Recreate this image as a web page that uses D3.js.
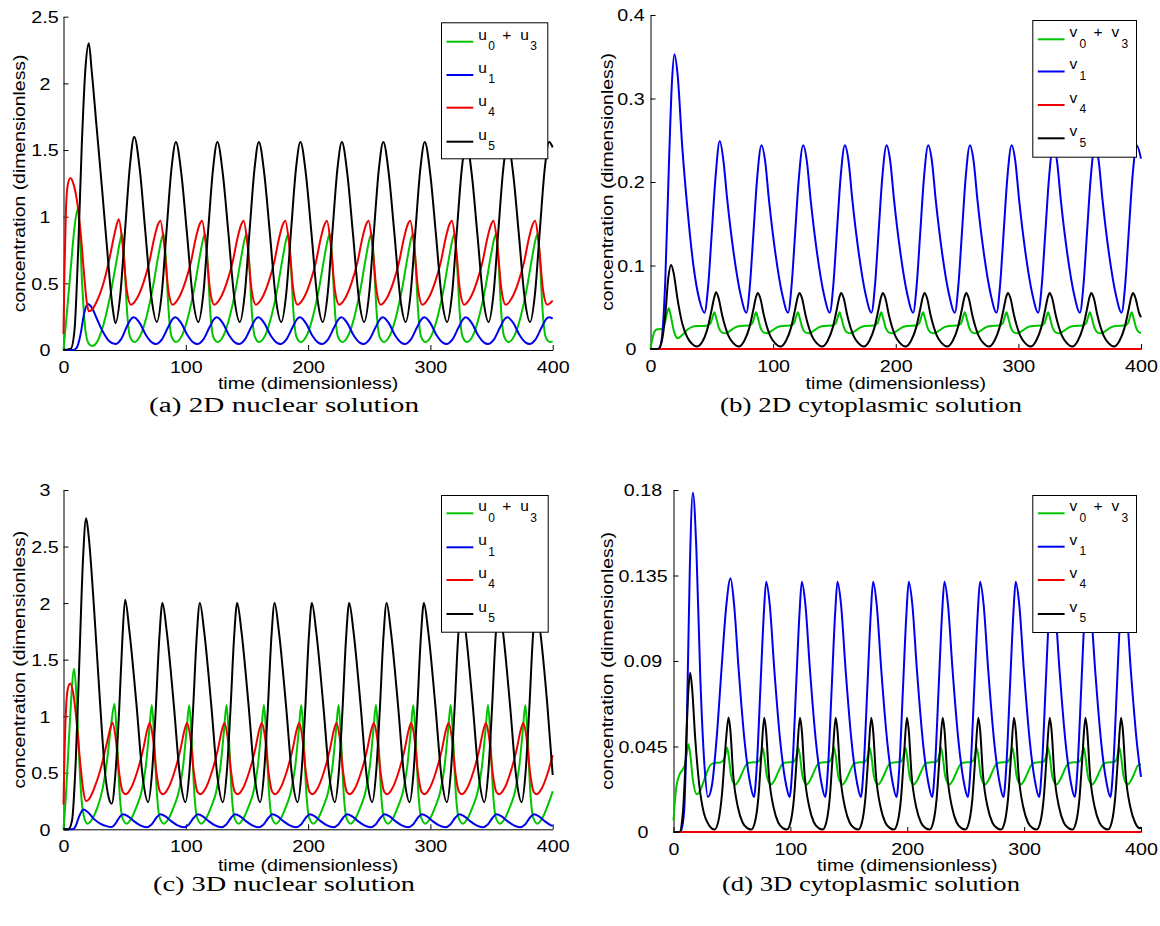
<!DOCTYPE html>
<html><head><meta charset="utf-8">
<script src="https://cdn.jsdelivr.net/npm/d3@7"></script>
<style>body{margin:0;background:#fff}svg{display:block}</style>
</head><body>
<svg id="fig" width="1160" height="926"></svg>
<script>
// ---------------- data ----------------
const xTicks = [0, 100, 200, 300, 400];
const yTicksA = [0, 0.5, 1, 1.5, 2, 2.5];
const yTicksB = [0, 0.1, 0.2, 0.3, 0.4];
const yTicksC = [0, 0.5, 1, 1.5, 2, 2.5, 3];
const yTicksD = [0, 0.045, 0.09, 0.135, 0.18];
const xLabel = "time (dimensionless)";
const yLabel = "concentration (dimensionless)";
const captions = ["(a) 2D nuclear solution", "(b) 2D cytoplasmic solution", "(c) 3D nuclear solution", "(d) 3D cytoplasmic solution"];
const legendNuclear = [[["u","0"],["u","3"]], [["u","1"]], [["u","4"]], [["u","5"]]];
const legendCyto = [[["v","0"],["v","3"]], [["v","1"]], [["v","4"]], [["v","5"]]];

// (a) 2D nuclear
const a_u03 = [[0,0],[3,0.3],[6,0.62],[9,0.92],[11.7,1.06],[13.5,0.85],[15.4,0.47],[17.9,0.15],[20.5,0.05],[23.4,0.03],[28,0.07],[33,0.2],[38,0.4],[43,0.65],[46.3,0.82],[47.9,0.87],
[49.9,0.65],[51.9,0.3],[54.4,0.1],[57.9,0.06],[62.9,0.11],[67.9,0.25],[72.9,0.46],[77.4,0.7],[80.4,0.84],[81.9,0.87],
[83.9,0.65],[85.9,0.3],[88.4,0.1],[91.9,0.06],[96.9,0.11],[101.9,0.25],[106.9,0.46],[111.4,0.7],[114.4,0.84],[115.9,0.87],
[117.9,0.65],[119.9,0.3],[122.4,0.1],[125.9,0.06],[130.9,0.11],[135.9,0.25],[140.9,0.46],[145.4,0.7],[148.4,0.84],[149.9,0.87],
[151.9,0.65],[153.9,0.3],[156.4,0.1],[159.9,0.06],[164.9,0.11],[169.9,0.25],[174.9,0.46],[179.4,0.7],[182.4,0.84],[183.9,0.87],
[185.9,0.65],[187.9,0.3],[190.4,0.1],[193.9,0.06],[198.9,0.11],[203.9,0.25],[208.9,0.46],[213.4,0.7],[216.4,0.84],[217.9,0.87],
[219.9,0.65],[221.9,0.3],[224.4,0.1],[227.9,0.06],[232.9,0.11],[237.9,0.25],[242.9,0.46],[247.4,0.7],[250.4,0.84],[251.9,0.87],
[253.9,0.65],[255.9,0.3],[258.4,0.1],[261.9,0.06],[266.9,0.11],[271.9,0.25],[276.9,0.46],[281.4,0.7],[284.4,0.84],[285.9,0.87],
[287.9,0.65],[289.9,0.3],[292.4,0.1],[295.9,0.06],[300.9,0.11],[305.9,0.25],[310.9,0.46],[315.4,0.7],[318.4,0.84],[319.8,0.87],
[321.8,0.65],[323.8,0.3],[326.3,0.1],[329.8,0.06],[334.8,0.11],[339.8,0.25],[344.8,0.46],[349.3,0.7],[352.3,0.84],[353.8,0.87],
[355.8,0.65],[357.8,0.3],[360.3,0.1],[363.8,0.06],[368.8,0.11],[373.8,0.25],[378.8,0.46],[383.3,0.7],[386.3,0.84],[387.7,0.87],
[389.7,0.65],[391.7,0.3],[394.2,0.1],[397.7,0.06],[400,0.065]];
const a_u1 = [[0,0],[8,0],[11,0.02],[14,0.12],[17,0.28],[19.9,0.345],[23,0.32],[27,0.24],[32,0.14],[37,0.07],[42.5,0.045],[47,0.08],[52,0.18],[55,0.23],[57.5,0.245],
[62.5,0.2],[67.5,0.11],[72.5,0.055],[75.5,0.045],[80.5,0.08],[85.5,0.17],[89,0.23],[91.4,0.245],
[96.4,0.2],[101.4,0.11],[106.4,0.055],[109.4,0.045],[114.4,0.08],[119.4,0.17],[122.9,0.23],[125.4,0.245],
[130.4,0.2],[135.4,0.11],[140.4,0.055],[143.4,0.045],[148.4,0.08],[153.4,0.17],[156.9,0.23],[159.3,0.245],
[164.3,0.2],[169.3,0.11],[174.3,0.055],[177.3,0.045],[182.3,0.08],[187.3,0.17],[190.8,0.23],[193.3,0.245],
[198.3,0.2],[203.3,0.11],[208.3,0.055],[211.3,0.045],[216.3,0.08],[221.3,0.17],[224.8,0.23],[227.2,0.245],
[232.2,0.2],[237.2,0.11],[242.2,0.055],[245.2,0.045],[250.2,0.08],[255.2,0.17],[258.7,0.23],[261.1,0.245],
[266.1,0.2],[271.1,0.11],[276.1,0.055],[279.1,0.045],[284.1,0.08],[289.1,0.17],[292.6,0.23],[295.1,0.245],
[300.1,0.2],[305.1,0.11],[310.1,0.055],[313.1,0.045],[318.1,0.08],[323.1,0.17],[326.6,0.23],[329,0.245],
[334,0.2],[339,0.11],[344,0.055],[347,0.045],[352,0.08],[357,0.17],[360.5,0.23],[363,0.245],
[368,0.2],[373,0.11],[378,0.055],[381,0.045],[386,0.08],[391,0.17],[394.5,0.23],[396.9,0.245],[400,0.235]];
const a_u4 = [[0,0.12],[0.8,0.6],[2,1.05],[3.5,1.24],[5.7,1.29],[8,1.25],[11,1.12],[14,0.88],[17,0.55],[19,0.36],[20.7,0.29],[23,0.3],[27,0.36],[32,0.48],[37,0.66],[41,0.84],[43.5,0.94],[45.2,0.98],
[48.2,0.8],[51.7,0.45],[55.2,0.34],[60.2,0.39],[65.2,0.5],[70.2,0.66],[74.2,0.84],[77.2,0.94],[79.2,0.97],
[82.2,0.8],[85.7,0.45],[89.2,0.34],[94.2,0.39],[99.2,0.5],[104.2,0.66],[108.2,0.84],[111.2,0.94],[113.3,0.97],
[116.3,0.8],[119.8,0.45],[123.3,0.34],[128.3,0.39],[133.3,0.5],[138.3,0.66],[142.3,0.84],[145.3,0.94],[147.3,0.97],
[150.3,0.8],[153.8,0.45],[157.3,0.34],[162.3,0.39],[167.3,0.5],[172.3,0.66],[176.3,0.84],[179.3,0.94],[181.4,0.97],
[184.4,0.8],[187.9,0.45],[191.4,0.34],[196.4,0.39],[201.4,0.5],[206.4,0.66],[210.4,0.84],[213.4,0.94],[215.4,0.97],
[218.4,0.8],[221.9,0.45],[225.4,0.34],[230.4,0.39],[235.4,0.5],[240.4,0.66],[244.4,0.84],[247.4,0.94],[249.4,0.97],
[252.4,0.8],[255.9,0.45],[259.4,0.34],[264.4,0.39],[269.4,0.5],[274.4,0.66],[278.4,0.84],[281.4,0.94],[283.5,0.97],
[286.5,0.8],[290,0.45],[293.5,0.34],[298.5,0.39],[303.5,0.5],[308.5,0.66],[312.5,0.84],[315.5,0.94],[317.6,0.97],
[320.6,0.8],[324.1,0.45],[327.6,0.34],[332.6,0.39],[337.6,0.5],[342.6,0.66],[346.6,0.84],[349.6,0.94],[351.6,0.97],
[354.6,0.8],[358.1,0.45],[361.6,0.34],[366.6,0.39],[371.6,0.5],[376.6,0.66],[380.6,0.84],[383.6,0.94],[385.6,0.97],
[388.6,0.8],[392.1,0.45],[395.6,0.34],[400,0.37]];
const a_u5 = [[0,0],[6,0.01],[9,0.15],[12,0.75],[15,1.55],[18,2.12],[20.7,2.3],[23,2.1],[27,1.68],[31.6,1.2],[36,0.72],[40,0.33],[42.5,0.2],
[46.5,0.42],[50.5,0.92],[54.3,1.38],[57.8,1.6],
[62.3,1.36],[66.8,0.9],[71.8,0.4],[76.3,0.21],[80.3,0.42],[84.3,0.9],[88.3,1.36],[91.9,1.56],
[96.4,1.32],[100.9,0.88],[105.9,0.38],[110.3,0.21],[114.3,0.42],[118.3,0.9],[122.3,1.36],[125.8,1.56],
[130.3,1.32],[134.8,0.88],[139.8,0.38],[144.2,0.21],[148.2,0.42],[152.2,0.9],[156.2,1.36],[159.7,1.56],
[164.2,1.32],[168.7,0.88],[173.7,0.38],[178.1,0.21],[182.1,0.42],[186.1,0.9],[190.1,1.36],[193.7,1.56],
[198.2,1.32],[202.7,0.88],[207.7,0.38],[212,0.21],[216,0.42],[220,0.9],[224,1.36],[227.6,1.56],
[232.1,1.32],[236.6,0.88],[241.6,0.38],[245.9,0.21],[249.9,0.42],[253.9,0.9],[257.9,1.36],[261.5,1.56],
[266,1.32],[270.5,0.88],[275.5,0.38],[279.8,0.21],[283.8,0.42],[287.8,0.9],[291.8,1.36],[295.4,1.56],
[299.9,1.32],[304.4,0.88],[309.4,0.38],[313.7,0.21],[317.7,0.42],[321.7,0.9],[325.7,1.36],[329.3,1.56],
[333.8,1.32],[338.3,0.88],[343.3,0.38],[347.6,0.21],[351.6,0.42],[355.6,0.9],[359.6,1.36],[363.2,1.56],
[367.7,1.32],[372.2,0.88],[377.2,0.38],[381.5,0.21],[385.5,0.42],[389.5,0.9],[393.5,1.36],[397.1,1.56],[400,1.52]];

// (b) 2D cytoplasmic
const b_v03 = [[0,0],[1.5,0.012],[3,0.02],[5.4,0.0236],[9,0.024],[11.5,0.03],[13.5,0.043],[14.9,0.0487],[16.5,0.04],[19,0.022],[22.3,0.0128],[26,0.017],[30,0.023],[34,0.0265],[38,0.0275],[46,0.0278],[49,0.031],[50.6,0.038],[52.1,0.044],
[53.6,0.037],[55.6,0.026],[58.1,0.02],[61.1,0.0188],[65.1,0.022],[69.1,0.026],[73.1,0.0275],[80.1,0.028],[83.1,0.031],[84.6,0.038],[86.1,0.044],
[87.6,0.037],[89.6,0.026],[92.1,0.02],[95.1,0.0188],[99.1,0.022],[103.1,0.026],[107.1,0.0275],[114.1,0.028],[117.1,0.031],[118.6,0.038],[120.2,0.044],
[121.7,0.037],[123.7,0.026],[126.2,0.02],[129.2,0.0188],[133.2,0.022],[137.2,0.026],[141.2,0.0275],[148.2,0.028],[151.2,0.031],[152.7,0.038],[154.2,0.044],
[155.7,0.037],[157.7,0.026],[160.2,0.02],[163.2,0.0188],[167.2,0.022],[171.2,0.026],[175.2,0.0275],[182.2,0.028],[185.2,0.031],[186.7,0.038],[188.2,0.044],
[189.7,0.037],[191.7,0.026],[194.2,0.02],[197.2,0.0188],[201.2,0.022],[205.2,0.026],[209.2,0.0275],[216.2,0.028],[219.2,0.031],[220.7,0.038],[222.3,0.044],
[223.8,0.037],[225.8,0.026],[228.3,0.02],[231.3,0.0188],[235.3,0.022],[239.3,0.026],[243.3,0.0275],[250.3,0.028],[253.3,0.031],[254.8,0.038],[256.3,0.044],
[257.8,0.037],[259.8,0.026],[262.3,0.02],[265.3,0.0188],[269.3,0.022],[273.3,0.026],[277.3,0.0275],[284.3,0.028],[287.3,0.031],[288.8,0.038],[290.3,0.044],
[291.8,0.037],[293.8,0.026],[296.3,0.02],[299.3,0.0188],[303.3,0.022],[307.3,0.026],[311.3,0.0275],[318.3,0.028],[321.3,0.031],[322.8,0.038],[324.3,0.044],
[325.8,0.037],[327.8,0.026],[330.3,0.02],[333.3,0.0188],[337.3,0.022],[341.3,0.026],[345.3,0.0275],[352.3,0.028],[355.3,0.031],[356.8,0.038],[358.4,0.044],
[359.9,0.037],[361.9,0.026],[364.4,0.02],[367.4,0.0188],[371.4,0.022],[375.4,0.026],[379.4,0.0275],[386.4,0.028],[389.4,0.031],[390.9,0.038],[392.4,0.044],
[393.9,0.037],[395.9,0.026],[398.4,0.02],[400,0.019]];
const b_v1 = [[0,0],[7,0],[9,0.01],[12,0.08],[15,0.22],[17.5,0.32],[19.5,0.353],[22,0.33],[26,0.24],[30,0.17],[35,0.1],[40,0.058],[44,0.0435],[47,0.075],[50,0.14],[53,0.205],[56.5,0.249],
[59.5,0.225],[62.5,0.18],[68,0.113],[73.5,0.065],[78.2,0.0435],[81,0.075],[84,0.14],[87,0.205],[90.5,0.244],
[93.5,0.225],[96.5,0.18],[102,0.113],[107.5,0.065],[112.2,0.0435],[115,0.075],[118,0.14],[121,0.205],[124.5,0.244],
[127.5,0.225],[130.5,0.18],[136,0.113],[141.5,0.065],[146.2,0.0435],[149,0.075],[152,0.14],[155,0.205],[158.5,0.244],
[161.5,0.225],[164.5,0.18],[170,0.113],[175.5,0.065],[180.2,0.0435],[183,0.075],[186,0.14],[189,0.205],[192.5,0.244],
[195.5,0.225],[198.5,0.18],[204,0.113],[209.5,0.065],[214.2,0.0435],[217,0.075],[220,0.14],[223,0.205],[226.5,0.244],
[229.5,0.225],[232.5,0.18],[238,0.113],[243.5,0.065],[248.2,0.0435],[251,0.075],[254,0.14],[257,0.205],[260.5,0.244],
[263.5,0.225],[266.5,0.18],[272,0.113],[277.5,0.065],[282.2,0.0435],[285,0.075],[288,0.14],[291,0.205],[294.5,0.244],
[297.5,0.225],[300.5,0.18],[306,0.113],[311.5,0.065],[316.2,0.0435],[319,0.075],[322,0.14],[325,0.205],[328.5,0.244],
[331.5,0.225],[334.5,0.18],[340,0.113],[345.5,0.065],[350.2,0.0435],[353,0.075],[356,0.14],[359,0.205],[362.5,0.244],
[365.5,0.225],[368.5,0.18],[374,0.113],[379.5,0.065],[384.2,0.0435],[387,0.075],[390,0.14],[393,0.205],[396.5,0.244],[400,0.228]];
const b_v4 = [[0,0],[400,0]];
const b_v5 = [[0,0],[6,0],[9,0.008],[12,0.04],[14.5,0.085],[16.8,0.1006],[19,0.09],[22,0.06],[26,0.03],[30,0.014],[34,0.006],[38,0.003],[42,0.008],[46,0.022],[50,0.048],[52,0.062],[53.5,0.068],
[55.5,0.061],[58.5,0.04],[63.5,0.016],[67.5,0.007],[72,0.003],[76.5,0.01],[80.5,0.025],[84,0.048],[86,0.062],[87.5,0.067],
[89.5,0.061],[92.5,0.04],[97.5,0.016],[101.5,0.007],[106,0.003],[110.5,0.01],[114.5,0.025],[118,0.048],[120,0.062],[121.5,0.067],
[123.5,0.061],[126.5,0.04],[131.5,0.016],[135.5,0.007],[140,0.003],[144.5,0.01],[148.5,0.025],[152,0.048],[154,0.062],[155.5,0.067],
[157.5,0.061],[160.5,0.04],[165.5,0.016],[169.5,0.007],[174,0.003],[178.5,0.01],[182.5,0.025],[186,0.048],[188,0.062],[189.5,0.067],
[191.5,0.061],[194.5,0.04],[199.5,0.016],[203.5,0.007],[208,0.003],[212.5,0.01],[216.5,0.025],[220,0.048],[222,0.062],[223.5,0.067],
[225.5,0.061],[228.5,0.04],[233.5,0.016],[237.5,0.007],[242,0.003],[246.5,0.01],[250.5,0.025],[254,0.048],[256,0.062],[257.5,0.067],
[259.5,0.061],[262.5,0.04],[267.5,0.016],[271.5,0.007],[276,0.003],[280.5,0.01],[284.5,0.025],[288,0.048],[290,0.062],[291.5,0.067],
[293.5,0.061],[296.5,0.04],[301.5,0.016],[305.5,0.007],[310,0.003],[314.5,0.01],[318.5,0.025],[322,0.048],[324,0.062],[325.5,0.067],
[327.5,0.061],[330.5,0.04],[335.5,0.016],[339.5,0.007],[344,0.003],[348.5,0.01],[352.5,0.025],[356,0.048],[358,0.062],[359.5,0.067],
[361.5,0.061],[364.5,0.04],[369.5,0.016],[373.5,0.007],[378,0.003],[382.5,0.01],[386.5,0.025],[390,0.048],[392,0.062],[393.5,0.067],
[395.5,0.061],[398.5,0.043],[400,0.038]];

// (c) 3D nuclear
const c_u03 = [[0,0],[2,0.3],[4,0.7],[6,1.1],[8.7,1.42],[10.5,1.2],[12.5,0.7],[14.5,0.3],[17,0.1],[19.6,0.05],[24,0.1],[28,0.2],[32,0.36],[35.5,0.6],[39,0.93],[41.7,1.11],
[43.7,0.8],[45.7,0.35],[48.2,0.1],[51.7,0.05],[55.7,0.1],[59.7,0.2],[63.7,0.33],[67.2,0.55],[70.2,0.88],[72.2,1.1],
[74.2,0.8],[76.2,0.35],[78.7,0.1],[82.2,0.05],[86.2,0.1],[90.2,0.2],[94.2,0.33],[97.7,0.55],[100.7,0.88],[102.8,1.1],
[104.8,0.8],[106.8,0.35],[109.3,0.1],[112.8,0.05],[116.8,0.1],[120.8,0.2],[124.8,0.33],[128.3,0.55],[131.3,0.88],[133.3,1.1],
[135.3,0.8],[137.3,0.35],[139.8,0.1],[143.3,0.05],[147.3,0.1],[151.3,0.2],[155.3,0.33],[158.8,0.55],[161.8,0.88],[163.9,1.1],
[165.9,0.8],[167.9,0.35],[170.4,0.1],[173.9,0.05],[177.9,0.1],[181.9,0.2],[185.9,0.33],[189.4,0.55],[192.4,0.88],[194.4,1.1],
[196.4,0.8],[198.4,0.35],[200.9,0.1],[204.4,0.05],[208.4,0.1],[212.4,0.2],[216.4,0.33],[219.9,0.55],[222.9,0.88],[224.9,1.1],
[226.9,0.8],[228.9,0.35],[231.4,0.1],[234.9,0.05],[238.9,0.1],[242.9,0.2],[246.9,0.33],[250.4,0.55],[253.4,0.88],[255.5,1.1],
[257.5,0.8],[259.5,0.35],[262,0.1],[265.5,0.05],[269.5,0.1],[273.5,0.2],[277.5,0.33],[281,0.55],[284,0.88],[286,1.1],
[288,0.8],[290,0.35],[292.5,0.1],[296,0.05],[300,0.1],[304,0.2],[308,0.33],[311.5,0.55],[314.5,0.88],[316.6,1.1],
[318.6,0.8],[320.6,0.35],[323.1,0.1],[326.6,0.05],[330.6,0.1],[334.6,0.2],[338.6,0.33],[342.1,0.55],[345.1,0.88],[347.1,1.1],
[349.1,0.8],[351.1,0.35],[353.6,0.1],[357.1,0.05],[361.1,0.1],[365.1,0.2],[369.1,0.33],[372.6,0.55],[375.6,0.88],[377.6,1.1],
[379.6,0.8],[381.6,0.35],[384.1,0.1],[387.6,0.05],[391.6,0.1],[395.6,0.2],[400,0.336]];
const c_u1 = [[0,0],[7,0],[10,0.03],[13,0.12],[16.3,0.174],[20,0.15],[25,0.09],[30,0.05],[35,0.028],[39.5,0.02],[42.5,0.05],[46,0.11],[48.8,0.133],
[52.8,0.115],[57.8,0.07],[62.8,0.035],[67.8,0.018],[71.8,0.04],[75.8,0.1],[79.3,0.133],
[83.3,0.115],[88.3,0.07],[93.3,0.035],[98.3,0.018],[102.3,0.04],[106.3,0.1],[109.9,0.133],
[113.9,0.115],[118.9,0.07],[123.9,0.035],[128.9,0.018],[132.9,0.04],[136.9,0.1],[140.4,0.133],
[144.4,0.115],[149.4,0.07],[154.4,0.035],[159.4,0.018],[163.4,0.04],[167.4,0.1],[171,0.133],
[175,0.115],[180,0.07],[185,0.035],[190,0.018],[194,0.04],[198,0.1],[201.5,0.133],
[205.5,0.115],[210.5,0.07],[215.5,0.035],[220.5,0.018],[224.5,0.04],[228.5,0.1],[232,0.133],
[236,0.115],[241,0.07],[246,0.035],[251,0.018],[255,0.04],[259,0.1],[262.6,0.133],
[266.6,0.115],[271.6,0.07],[276.6,0.035],[281.6,0.018],[285.6,0.04],[289.6,0.1],[293.1,0.133],
[297.1,0.115],[302.1,0.07],[307.1,0.035],[312.1,0.018],[316.1,0.04],[320.1,0.1],[323.7,0.133],
[327.7,0.115],[332.7,0.07],[337.7,0.035],[342.7,0.018],[346.7,0.04],[350.7,0.1],[354.2,0.133],
[358.2,0.115],[363.2,0.07],[368.2,0.035],[373.2,0.018],[377.2,0.04],[381.2,0.1],[384.7,0.133],
[388.7,0.115],[393.7,0.07],[398.7,0.035],[400,0.03]];
const c_u4 = [[0,0.22],[0.7,0.6],[2,1.05],[3.5,1.24],[5.5,1.29],[8,1.2],[11,0.92],[14,0.55],[16.5,0.32],[18.5,0.25],[21,0.27],[25,0.36],[30,0.52],[35,0.74],[38.5,0.9],[40,0.944],
[42.5,0.82],[45.5,0.5],[48.5,0.33],[51,0.31],[55,0.36],[60,0.5],[65,0.7],[68.5,0.88],[70.5,0.94],
[73,0.82],[76,0.5],[79,0.33],[81.5,0.31],[85.5,0.36],[90.5,0.5],[95.5,0.7],[99,0.88],[101.1,0.94],
[103.6,0.82],[106.6,0.5],[109.6,0.33],[112.1,0.31],[116.1,0.36],[121.1,0.5],[126.1,0.7],[129.6,0.88],[131.6,0.94],
[134.1,0.82],[137.1,0.5],[140.1,0.33],[142.6,0.31],[146.6,0.36],[151.6,0.5],[156.6,0.7],[160.1,0.88],[162.2,0.94],
[164.7,0.82],[167.7,0.5],[170.7,0.33],[173.2,0.31],[177.2,0.36],[182.2,0.5],[187.2,0.7],[190.7,0.88],[192.7,0.94],
[195.2,0.82],[198.2,0.5],[201.2,0.33],[203.7,0.31],[207.7,0.36],[212.7,0.5],[217.7,0.7],[221.2,0.88],[223.2,0.94],
[225.7,0.82],[228.7,0.5],[231.7,0.33],[234.2,0.31],[238.2,0.36],[243.2,0.5],[248.2,0.7],[251.7,0.88],[253.8,0.94],
[256.3,0.82],[259.3,0.5],[262.3,0.33],[264.8,0.31],[268.8,0.36],[273.8,0.5],[278.8,0.7],[282.3,0.88],[284.3,0.94],
[286.8,0.82],[289.8,0.5],[292.8,0.33],[295.3,0.31],[299.3,0.36],[304.3,0.5],[309.3,0.7],[312.8,0.88],[314.9,0.94],
[317.4,0.82],[320.4,0.5],[323.4,0.33],[325.9,0.31],[329.9,0.36],[334.9,0.5],[339.9,0.7],[343.4,0.88],[345.4,0.94],
[347.9,0.82],[350.9,0.5],[353.9,0.33],[356.4,0.31],[360.4,0.36],[365.4,0.5],[370.4,0.7],[373.9,0.88],[376,0.94],
[378.5,0.82],[381.5,0.5],[384.5,0.33],[387,0.31],[391,0.36],[396,0.5],[400,0.655]];
const c_u5 = [[0,0],[4,0],[7,0.08],[10,0.6],[13,1.5],[16,2.4],[18.5,2.75],[20.5,2.6],[25,1.95],[30,1.1],[34,0.5],[37,0.28],[39.5,0.227],[42.5,0.5],[45.5,1.05],[48,1.65],[50.4,2.03],
[53.9,1.75],[59.7,1.1],[64.9,0.45],[69.2,0.24],[72.4,0.5],[75.4,1.05],[78.4,1.7],[80.9,2],
[84.4,1.75],[90.2,1.1],[95.4,0.45],[99.7,0.24],[102.9,0.5],[105.9,1.05],[108.9,1.7],[111.5,2],
[115,1.75],[120.8,1.1],[126,0.45],[130.3,0.24],[133.5,0.5],[136.5,1.05],[139.5,1.7],[142,2],
[145.5,1.75],[151.3,1.1],[156.5,0.45],[160.8,0.24],[164,0.5],[167,1.05],[170,1.7],[172.6,2],
[176.1,1.75],[181.9,1.1],[187.1,0.45],[191.4,0.24],[194.6,0.5],[197.6,1.05],[200.6,1.7],[203.1,2],
[206.6,1.75],[212.4,1.1],[217.6,0.45],[221.9,0.24],[225.1,0.5],[228.1,1.05],[231.1,1.7],[233.6,2],
[237.1,1.75],[242.9,1.1],[248.1,0.45],[252.4,0.24],[255.6,0.5],[258.6,1.05],[261.6,1.7],[264.2,2],
[267.7,1.75],[273.5,1.1],[278.7,0.45],[283,0.24],[286.2,0.5],[289.2,1.05],[292.2,1.7],[294.7,2],
[298.2,1.75],[304,1.1],[309.2,0.45],[313.5,0.24],[316.7,0.5],[319.7,1.05],[322.7,1.7],[325.3,2],
[328.8,1.75],[334.6,1.1],[339.8,0.45],[344.1,0.24],[347.3,0.5],[350.3,1.05],[353.3,1.7],[355.8,2],
[359.3,1.75],[365.1,1.1],[370.3,0.45],[374.6,0.24],[377.8,0.5],[380.8,1.05],[383.8,1.7],[386.3,2],
[389.8,1.75],[395.6,1.1],[400,0.48]];

// (d) 3D cytoplasmic
const d_v03 = [[0,0.006],[1,0.015],[2.5,0.024],[5,0.03],[8,0.033],[10,0.036],[11.5,0.042],[12.8,0.0462],[14.5,0.04],[16.5,0.028],[20,0.0199],[23,0.022],[26,0.027],[29,0.032],[32,0.0355],[36,0.0364],[40,0.0366],[43,0.038],[44.5,0.041],[45.7,0.0445],
[47.2,0.04],[49.2,0.03],[51.2,0.026],[53.1,0.025],[55.7,0.027],[58.7,0.031],[61.7,0.035],[64.7,0.0365],[71.7,0.0368],[73.7,0.038],[75,0.041],[76.2,0.0445],
[77.7,0.04],[79.7,0.03],[81.7,0.026],[83.6,0.025],[86.2,0.027],[89.2,0.031],[92.2,0.035],[95.2,0.0365],[102.2,0.0368],[104.2,0.038],[105.5,0.041],[106.7,0.0445],
[108.2,0.04],[110.2,0.03],[112.2,0.026],[114.1,0.025],[116.7,0.027],[119.7,0.031],[122.7,0.035],[125.7,0.0365],[132.7,0.0368],[134.7,0.038],[136,0.041],[137.3,0.0445],
[138.8,0.04],[140.8,0.03],[142.8,0.026],[144.7,0.025],[147.3,0.027],[150.3,0.031],[153.3,0.035],[156.3,0.0365],[163.3,0.0368],[165.3,0.038],[166.6,0.041],[167.8,0.0445],
[169.3,0.04],[171.3,0.03],[173.3,0.026],[175.2,0.025],[177.8,0.027],[180.8,0.031],[183.8,0.035],[186.8,0.0365],[193.8,0.0368],[195.8,0.038],[197.1,0.041],[198.3,0.0445],
[199.8,0.04],[201.8,0.03],[203.8,0.026],[205.7,0.025],[208.3,0.027],[211.3,0.031],[214.3,0.035],[217.3,0.0365],[224.3,0.0368],[226.3,0.038],[227.6,0.041],[228.8,0.0445],
[230.3,0.04],[232.3,0.03],[234.3,0.026],[236.2,0.025],[238.8,0.027],[241.8,0.031],[244.8,0.035],[247.8,0.0365],[254.8,0.0368],[256.8,0.038],[258.1,0.041],[259.3,0.0445],
[260.8,0.04],[262.8,0.03],[264.8,0.026],[266.7,0.025],[269.3,0.027],[272.3,0.031],[275.3,0.035],[278.3,0.0365],[285.3,0.0368],[287.3,0.038],[288.6,0.041],[289.9,0.0445],
[291.4,0.04],[293.4,0.03],[295.4,0.026],[297.3,0.025],[299.9,0.027],[302.9,0.031],[305.9,0.035],[308.9,0.0365],[315.9,0.0368],[317.9,0.038],[319.2,0.041],[320.4,0.0445],
[321.9,0.04],[323.9,0.03],[325.9,0.026],[327.8,0.025],[330.4,0.027],[333.4,0.031],[336.4,0.035],[339.4,0.0365],[346.4,0.0368],[348.4,0.038],[349.7,0.041],[350.9,0.0445],
[352.4,0.04],[354.4,0.03],[356.4,0.026],[358.3,0.025],[360.9,0.027],[363.9,0.031],[366.9,0.035],[369.9,0.0365],[376.9,0.0368],[378.9,0.038],[380.2,0.041],[381.4,0.0445],
[382.9,0.04],[384.9,0.03],[386.9,0.026],[388.8,0.025],[391.4,0.027],[394.4,0.031],[397.4,0.035],[400,0.0355]];
const d_v1 = [[0,0],[6,0],[9,0.01],[11.5,0.06],[14,0.14],[16.6,0.1786],[19.5,0.15],[23,0.08],[26.5,0.035],[29.4,0.0184],[33,0.025],[37,0.05],[41,0.085],[45,0.118],[48.8,0.1335],
[51.8,0.12],[55.8,0.085],[60.8,0.048],[65.8,0.025],[68.8,0.0184],[71.3,0.035],[74.3,0.075],[77.3,0.115],[79.3,0.1317],
[82.3,0.12],[86.3,0.085],[91.3,0.048],[96.3,0.025],[99.3,0.0184],[101.8,0.035],[104.8,0.075],[107.8,0.115],[109.8,0.1317],
[112.8,0.12],[116.8,0.085],[121.8,0.048],[126.8,0.025],[129.8,0.0184],[132.3,0.035],[135.3,0.075],[138.3,0.115],[140.3,0.1317],
[143.3,0.12],[147.3,0.085],[152.3,0.048],[157.3,0.025],[160.3,0.0184],[162.8,0.035],[165.8,0.075],[168.8,0.115],[170.8,0.1317],
[173.8,0.12],[177.8,0.085],[182.8,0.048],[187.8,0.025],[190.8,0.0184],[193.3,0.035],[196.3,0.075],[199.3,0.115],[201.3,0.1317],
[204.3,0.12],[208.3,0.085],[213.3,0.048],[218.3,0.025],[221.3,0.0184],[223.8,0.035],[226.8,0.075],[229.8,0.115],[231.8,0.1317],
[234.8,0.12],[238.8,0.085],[243.8,0.048],[248.8,0.025],[251.8,0.0184],[254.3,0.035],[257.3,0.075],[260.3,0.115],[262.3,0.1317],
[265.3,0.12],[269.3,0.085],[274.3,0.048],[279.3,0.025],[282.3,0.0184],[284.8,0.035],[287.8,0.075],[290.8,0.115],[292.8,0.1317],
[295.8,0.12],[299.8,0.085],[304.8,0.048],[309.8,0.025],[312.8,0.0184],[315.3,0.035],[318.3,0.075],[321.3,0.115],[323.3,0.1317],
[326.3,0.12],[330.3,0.085],[335.3,0.048],[340.3,0.025],[343.3,0.0184],[345.8,0.035],[348.8,0.075],[351.8,0.115],[353.8,0.1317],
[356.8,0.12],[360.8,0.085],[365.8,0.048],[370.8,0.025],[373.8,0.0184],[376.3,0.035],[379.3,0.075],[382.3,0.115],[384.3,0.1317],
[387.3,0.12],[391.3,0.085],[396.3,0.048],[400,0.029]];
const d_v4 = [[0,0],[400,0]];
const d_v5 = [[0,0],[5,0],[8,0.01],[10.5,0.04],[12.5,0.072],[14.3,0.0838],[16,0.075],[18.5,0.05],[22,0.025],[26,0.01],[30,0.004],[35.1,0.0013],[38.5,0.006],[41.5,0.02],[44.5,0.045],[47.1,0.0603],
[48.6,0.054],[51.1,0.03],[55.1,0.013],[59.1,0.005],[63.1,0.002],[66.5,0.0013],[69.6,0.005],[72.6,0.018],[75.1,0.04],[77.6,0.0601],
[79.1,0.054],[81.6,0.03],[85.6,0.013],[89.6,0.005],[93.6,0.002],[97,0.0013],[100.1,0.005],[103.1,0.018],[105.6,0.04],[108.2,0.0601],
[109.7,0.054],[112.2,0.03],[116.2,0.013],[120.2,0.005],[124.2,0.002],[127.6,0.0013],[130.7,0.005],[133.7,0.018],[136.2,0.04],[138.7,0.0601],
[140.2,0.054],[142.7,0.03],[146.7,0.013],[150.7,0.005],[154.7,0.002],[158.1,0.0013],[161.2,0.005],[164.2,0.018],[166.7,0.04],[169.2,0.0601],
[170.7,0.054],[173.2,0.03],[177.2,0.013],[181.2,0.005],[185.2,0.002],[188.6,0.0013],[191.7,0.005],[194.7,0.018],[197.2,0.04],[199.7,0.0601],
[201.2,0.054],[203.7,0.03],[207.7,0.013],[211.7,0.005],[215.7,0.002],[219.1,0.0013],[222.2,0.005],[225.2,0.018],[227.7,0.04],[230.3,0.0601],
[231.8,0.054],[234.3,0.03],[238.3,0.013],[242.3,0.005],[246.3,0.002],[249.7,0.0013],[252.8,0.005],[255.8,0.018],[258.3,0.04],[260.8,0.0601],
[262.3,0.054],[264.8,0.03],[268.8,0.013],[272.8,0.005],[276.8,0.002],[280.2,0.0013],[283.3,0.005],[286.3,0.018],[288.8,0.04],[291.3,0.0601],
[292.8,0.054],[295.3,0.03],[299.3,0.013],[303.3,0.005],[307.3,0.002],[310.7,0.0013],[313.8,0.005],[316.8,0.018],[319.3,0.04],[321.9,0.0601],
[323.4,0.054],[325.9,0.03],[329.9,0.013],[333.9,0.005],[337.9,0.002],[341.3,0.0013],[344.4,0.005],[347.4,0.018],[349.9,0.04],[352.4,0.0601],
[353.9,0.054],[356.4,0.03],[360.4,0.013],[364.4,0.005],[368.4,0.002],[371.8,0.0013],[374.9,0.005],[377.9,0.018],[380.4,0.04],[382.9,0.0601],
[384.4,0.054],[386.9,0.03],[390.9,0.013],[394.9,0.005],[398.9,0.002],[400,0.0025]];

// ---------------- layout & style ----------------
const COLORS = ["#00c400", "#0000f0", "#f00000", "#000000"];
const SANS = "'Liberation Sans', Arial, Helvetica, sans-serif";
const SERIF = "'Liberation Serif', 'Times New Roman', serif";

const panels = [
  {series:[a_u03,a_u1,a_u4,a_u5], yMax:2.5, yTicks:yTicksA, legend:legendNuclear,
   L:63.5, R:552.7, T:16.7, B:350, yLabX:45, yTitleX:19, xTitleY:389,
   lg:{x:441,y:22.3,w:106.3,h:136,rows:[41.7,75,107.7,141.7]}, cap:{x:284,y:412,w:270}},
  {series:[b_v03,b_v1,b_v4,b_v5], yMax:0.4, yTicks:yTicksB, legend:legendCyto,
   L:650.5, R:1141, T:15, B:349, yLabX:631, yTitleX:607, xTitleY:389,
   lg:{x:1032.3,y:20,w:103.7,h:136.7,rows:[39.3,71.5,105,138.3]}, cap:{x:871,y:412,w:302}},
  {series:[c_u03,c_u1,c_u4,c_u5], yMax:3, yTicks:yTicksC, legend:legendNuclear,
   L:63.5, R:552.7, T:490, B:829.3, yLabX:45, yTitleX:19, xTitleY:871,
   lg:{x:441,y:495,w:106.7,h:136.7,rows:[513.3,547.3,580,614]}, cap:{x:284,y:891,w:262}},
  {series:[d_v03,d_v1,d_v4,d_v5], yMax:0.18, yTicks:yTicksD, legend:legendCyto,
   L:673.5, R:1141, T:490, B:832, yLabX:643, yTitleX:607, xTitleY:871,
   lg:{x:1032.3,y:495,w:103.7,h:137,rows:[513.3,546.7,580,614]}, cap:{x:871,y:891,w:298}}
];

const svg = d3.select("#fig");
const TICK_FS = 16.4, STRETCH = 1.2;

panels.forEach((p, pi) => {
  const x = d3.scaleLinear().domain([0, 400]).range([p.L, p.R]);
  const y = d3.scaleLinear().domain([0, p.yMax]).range([p.B, p.T]);
  const g = svg.append("g");

  const gx = g.append("g").attr("transform", `translate(0,${p.B})`)
    .call(d3.axisBottom(x).tickValues(xTicks).tickFormat(d3.format("d")).tickSizeInner(-5).tickSizeOuter(0));
  gx.selectAll("text").attr("x", null).attr("y", null).attr("dy", null)
    .attr("transform", `translate(0,22.6) scale(${STRETCH},1)`)
    .attr("text-anchor", "middle");
  const gy = g.append("g").attr("transform", `translate(${p.L},0)`)
    .call(d3.axisLeft(y).tickValues(p.yTicks).tickFormat(d => String(d)).tickSizeInner(-5).tickSizeOuter(0));
  gy.selectAll("text").attr("x", null).attr("y", null).attr("dy", null)
    .attr("transform", `translate(${p.yLabX - p.L},5.9) scale(${STRETCH},1)`)
    .attr("text-anchor", "middle");
  [gx, gy].forEach(a => {
    a.attr("font-family", SANS).attr("font-size", TICK_FS);
    a.selectAll("text").attr("fill", "#000");
    a.selectAll("path.domain,line").attr("stroke", "#000").attr("stroke-width", 1);
  });

  g.append("text").attr("transform", `translate(${(p.L + p.R) / 2},${p.xTitleY}) scale(1.2,1)`)
    .attr("text-anchor", "middle").attr("font-family", SANS).attr("font-size", 16.4).text(xLabel);
  g.append("text").attr("transform", `translate(${p.yTitleX + 6},${(p.T + p.B) / 2}) rotate(-90) scale(1.17,1)`)
    .attr("text-anchor", "middle").attr("font-family", SANS).attr("font-size", 16.6).text(yLabel);

  const line = d3.line().x(d => x(d[0])).y(d => y(d[1])).curve(d3.curveMonotoneX);
  p.series.forEach((s, i) => {
    g.append("path").datum(s).attr("d", line).attr("fill", "none")
      .attr("stroke", COLORS[i]).attr("stroke-width", 2).attr("stroke-linejoin", "round");
  });

  const lg = p.lg;
  g.append("rect").attr("x", lg.x + 0.5).attr("y", lg.y + 0.5).attr("width", lg.w).attr("height", lg.h)
    .attr("fill", "#fff").attr("stroke", "#000").attr("stroke-width", 1);
  p.legend.forEach((parts, i) => {
    const ry = lg.rows[i];
    g.append("line").attr("x1", lg.x + 5.5).attr("x2", lg.x + 32.3).attr("y1", ry).attr("y2", ry)
      .attr("stroke", COLORS[i]).attr("stroke-width", 2);
    const tx = lg.x + 37.3;
    const t = g.append("text").attr("font-family", SANS).attr("fill", "#000");
    let cx = tx;
    parts.forEach((pt, k) => {
      if (k > 0) {
        t.append("tspan").attr("x", cx + 5.5).attr("y", ry - 2.2).attr("font-size", 15.5).text("+");
        cx += 23.5;
      }
      t.append("tspan").attr("x", cx).attr("y", ry - 2.2).attr("font-size", 15.5).text(pt[0]);
      t.append("tspan").attr("x", cx + 10).attr("y", ry + 8.3).attr("font-size", 12).text(pt[1]);
      cx += 18.5;
    });
  });

  svg.append("text").attr("x", p.cap.x).attr("y", p.cap.y).attr("text-anchor", "middle")
    .attr("font-family", SERIF).attr("font-size", 20.5)
    .attr("textLength", p.cap.w).attr("lengthAdjust", "spacingAndGlyphs")
    .text(captions[pi]);
});
</script>
</body></html>
